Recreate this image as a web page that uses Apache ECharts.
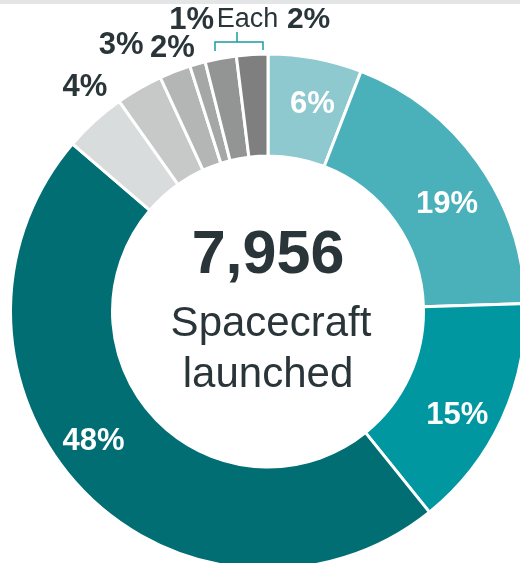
<!DOCTYPE html>
<html>
<head>
<meta charset="utf-8">
<script src="https://cdn.jsdelivr.net/npm/echarts@6/dist/echarts.min.js"></script>
<style>
html,body{margin:0;padding:0;background:#fff;}
#c{width:520px;height:563px;}
</style>
</head>
<body>
<div id="c"></div>
<script>
// Data
const categories = ['A','B','C','D','E','F','G','H','I','J'];
const shares = [6, 19, 15, 48, 4, 3, 2, 1, 2, 2];
const labelTexts = ['6%','19%','15%','48%','4%','3%','2%','1%','{e|Each} {b|2%}',''];
const totalLaunched = '7,956';
const centerLines = ['Spacecraft', 'launched'];

// Styles
const colors = ['#8DC9CE','#4AB0B9','#0097A1','#006E73','#D9DCDD','#C7C9C9','#B4B6B6','#A5A7A7','#939595','#7F7F7F'];
const insideIdx = [0,1,2,3];
const labelOffsets = [[6,-1],[8,14],[-1,16],[-24,-16],[-42,-69],[-42,-85],[-20,-68],[-19,-90],[44,-86],[0,0]];
const FONT = '"Liberation Sans", Arial, sans-serif';
const DARK = '#2A353A';

const chart = echarts.init(document.getElementById('c'), null, {renderer:'canvas'});

const data = shares.map((v, i) => {
  const inside = insideIdx.includes(i);
  return {
    name: categories[i],
    value: v,
    itemStyle: {color: colors[i]},
    label: {
      show: labelTexts[i] !== '',
      position: 'inside',
      formatter: labelTexts[i],
      offset: labelOffsets[i],
      color: inside ? '#ffffff' : DARK,
      fontFamily: FONT,
      fontWeight: 'bold',
      fontSize: 31,
      rich: {
        e: {fontFamily: FONT, fontSize: 27, fontWeight: 'normal', color: DARK},
        b: {fontFamily: FONT, fontSize: 30, fontWeight: 'bold', color: DARK}
      }
    }
  };
});

chart.setOption({
  animation: false,
  backgroundColor: '#ffffff',
  series: [{
    type: 'pie',
    center: [268, 311.5],
    radius: [155.5, 257.5],
    startAngle: 90,
    clockwise: true,
    avoidLabelOverlap: false,
    minShowLabelAngle: 0,
    labelLayout: {hideOverlap: false},
    labelLine: {show: false},
    itemStyle: {borderColor: '#ffffff', borderWidth: 3},
    emphasis: {disabled: true},
    data: data
  }],
  graphic: [
    {type: 'rect', left: 0, top: 0, shape: {width: 520, height: 4}, style: {fill: '#E3E5E6'}},
    {type: 'polyline', shape: {points: [[215,51],[215,42],[263,42],[263,50]]}, style: {stroke: '#1A9BA6', lineWidth: 1.5, fill: null}},
    {type: 'line', shape: {x1: 237, y1: 42, x2: 237, y2: 32}, style: {stroke: '#1A9BA6', lineWidth: 1.5}},
    {type: 'text', x: 268, y: 256, style: {text: totalLaunched, fill: DARK, font: 'bold 61px ' + FONT, textAlign: 'center', textVerticalAlign: 'middle'}},
    {type: 'text', x: 271, y: 324, style: {text: centerLines[0], fill: DARK, font: '42px ' + FONT, textAlign: 'center', textVerticalAlign: 'middle'}},
    {type: 'text', x: 268, y: 375, style: {text: centerLines[1], fill: DARK, font: '42px ' + FONT, textAlign: 'center', textVerticalAlign: 'middle'}}
  ]
});
</script>
</body>
</html>
